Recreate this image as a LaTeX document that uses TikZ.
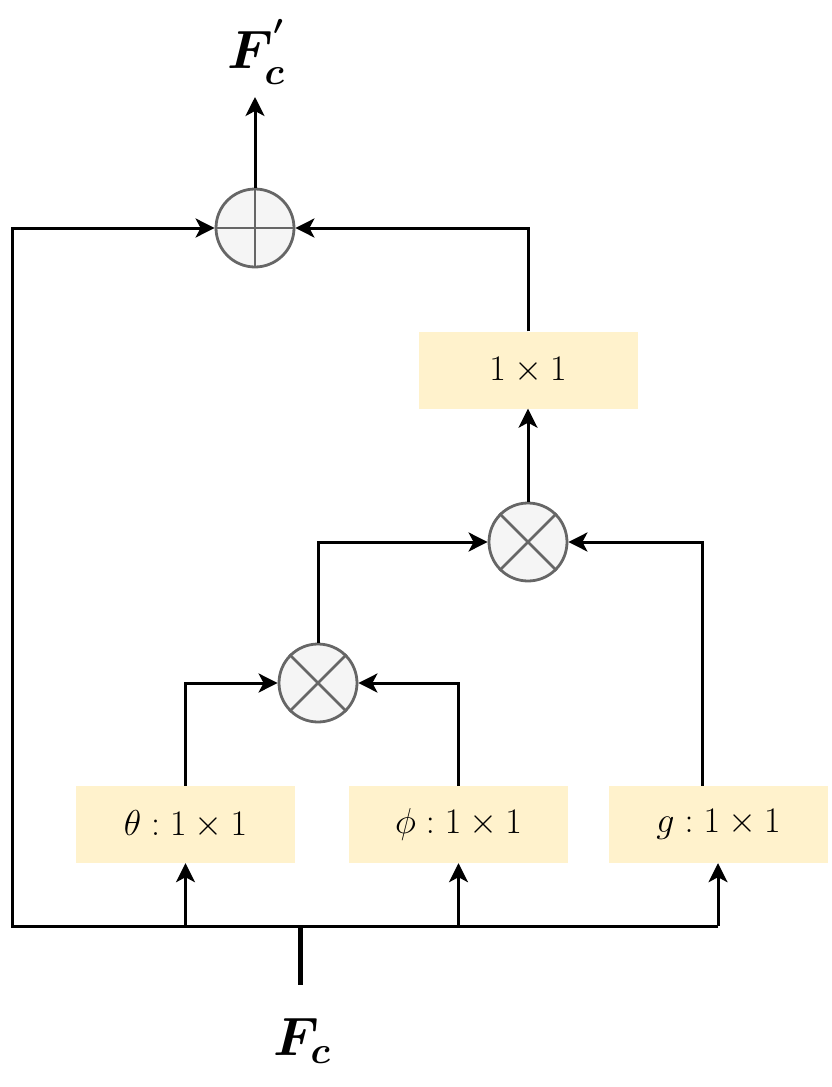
\RequirePackage{fix-cm}
\documentclass[tikz,border=0pt]{standalone}
\usepackage{amsmath}
\usetikzlibrary{arrows.meta}
\definecolor{boxfill}{HTML}{FFF2CC}
\definecolor{circfill}{HTML}{F5F5F5}
\definecolor{circline}{HTML}{666666}
\tikzset{
  conn/.style={line width=3pt, black},
  arr/.style={conn, -{Stealth[length=19pt,width=19pt,inset=5pt]}},
  opbox/.style={fill=boxfill, draw=none, minimum width=219pt, minimum height=77pt, inner sep=0pt, font=\fontsize{36}{42}\selectfont},
  opcirc/.style={circle, fill=circfill, draw=circline, line width=2.8pt, minimum size=78pt, inner sep=0pt},
  crossline/.style={circline, line width=2.8pt},
  biglabel/.style={font=\fontsize{54}{62}\selectfont\boldmath, inner sep=0pt}
}
\begin{document}
\begin{tikzpicture}[x=1pt,y=-1pt]
\useasboundingbox (0,0) rectangle (831,1087);
% nodes
\node[opcirc] (plus) at (255,228) {};
\draw[crossline] (plus.north) -- (plus.south) (plus.west) -- (plus.east);
\node[opbox] (conv) at (528,370) {$1\times1$};
\node[opcirc] (mulA) at (528,542) {};
\draw[crossline] (mulA.north west) -- (mulA.south east) (mulA.north east) -- (mulA.south west);
\node[opcirc] (mulB) at (318,683) {};
\draw[crossline] (mulB.north west) -- (mulB.south east) (mulB.north east) -- (mulB.south west);
\node[opbox] (theta) at (185.5,824.5) {$\theta:1\times1$};
\node[opbox] (phi) at (458.5,824.5) {$\phi:1\times1$};
\node[opbox] (gbox) at (718.5,824.5) {$g:1\times1$};
\node[biglabel, anchor=base] (fout) at (256,68) {$F_c^{'}$};
\node[biglabel, anchor=base] (fin) at (302,1055) {$F_c$};
% coordinates
\coordinate (outtip) at (255,97);
\coordinate (bus) at (300,926);
\coordinate (busL) at (12,926);
\coordinate (busR) at (718,926);
\coordinate (stubEnd) at (300,985);
% connectors
\draw[arr] (plus.north) -- (outtip);
\draw[arr] (busR) -- (busL) -- (12,228) -- (plus.west);
\draw[arr] (conv.north) |- (plus.east);
\draw[arr] (mulA.north) -- (conv.south);
\draw[arr] (mulB.north) |- (mulA.west);
\draw[arr] ([xshift=-16.5pt]gbox.north) |- (mulA.east);
\draw[arr] (theta.north) |- (mulB.west);
\draw[arr] (phi.north) |- (mulB.east);
\draw[arr] (185.5,926) -- (theta.south);
\draw[arr] (458.5,926) -- (phi.south);
\draw[arr] (busR) -- (busR |- gbox.south);
\draw[line width=5pt] (bus) -- (stubEnd);
\end{tikzpicture}
\end{document}
